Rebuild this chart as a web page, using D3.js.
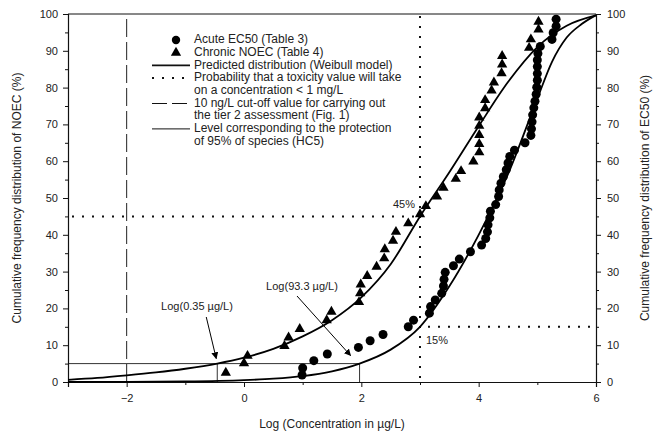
<!DOCTYPE html>
<html>
<head>
<meta charset="utf-8">
<script src="https://cdn.jsdelivr.net/npm/d3@7"></script>
<style>
  html, body { margin: 0; padding: 0; background: #fff; }
  svg { display: block; font-family: "Liberation Sans", Arial, sans-serif; }
  .tick text { font-size: 11px; fill: #222; }
  .domain, .tick line { stroke: #111; }
</style>
</head>
<body>
<svg id="chart" width="661" height="439"></svg>
<script>
// Acute EC50 observations (Table 3): log10 concentration (µg/L) and cumulative %
const acuteLogConc = [0.99, 1.00, 1.19, 1.42, 1.95, 2.15, 2.37, 2.80, 2.89, 3.16, 3.18, 3.26, 3.37, 3.40,
  3.41, 3.43, 3.57, 3.67, 3.86, 4.05, 4.12, 4.15, 4.16, 4.19, 4.20, 4.29, 4.34, 4.35, 4.38, 4.42,
  4.47, 4.50, 4.53, 4.61, 4.79, 4.89, 4.90, 4.91, 4.92, 4.94, 4.96, 4.98, 4.99, 5.00, 5.00, 5.00,
  5.00, 5.01, 5.05, 5.25, 5.27, 5.32, 5.32];
const acutePct = [1.9, 3.8, 5.8, 7.6, 9.4, 11.2, 12.9, 15.0, 16.8, 18.7, 20.5, 22.3, 24.1, 26.1,
  27.9, 29.8, 31.6, 33.4, 35.4, 37.2, 39.0, 40.8, 42.7, 44.6, 46.4, 48.2, 50.4, 52.2, 54.0, 55.8,
  57.7, 59.5, 61.3, 63.0, 65.0, 67.0, 68.8, 70.7, 72.6, 74.5, 76.3, 78.2, 80.1, 82.0, 83.8, 85.7,
  87.5, 89.3, 91.2, 93.1, 94.9, 96.7, 98.6];

// Chronic NOEC observations (Table 4)
const chronicLogConc = [-0.31, 0.00, 0.06, 0.69, 0.76, 0.95, 1.41, 1.49, 1.96, 1.98, 1.99, 2.10, 2.26,
  2.39, 2.40, 2.54, 2.59, 2.80, 3.00, 3.10, 3.29, 3.40, 3.61, 3.70, 3.91, 4.01, 4.01, 4.01, 4.01,
  4.01, 4.11, 4.11, 4.22, 4.26, 4.39, 4.40, 4.40, 4.86, 4.89, 5.02, 5.02];
const chronicPct = [2.5, 5.1, 7.1, 9.8, 12.1, 14.4, 16.8, 19.1, 21.7, 24.1, 26.5, 28.8, 31.3,
  33.6, 36.1, 38.4, 40.8, 43.1, 45.6, 47.8, 50.4, 52.8, 55.2, 57.3, 59.9, 62.4, 64.7, 67.1, 69.6,
  71.9, 74.4, 76.6, 79.2, 81.4, 83.9, 86.3, 88.6, 90.8, 93.1, 95.8, 97.9];

// Fitted Weibull distributions, sampled along the x axis
const chronicFitX = [-3.0, -2.5, -2.0, -1.5, -1.0, -0.456, 0.0, 0.5, 1.0, 1.5, 2.0, 2.5, 3.0, 3.5, 4.0, 4.5, 5.0, 5.5, 6.0];
const chronicFitY = [0.6, 1.1, 1.8, 2.6, 3.6, 5.0, 6.6, 9.0, 12.4, 16.8, 23.0, 32.0, 45.0, 57.0, 69.5, 81.5, 91.0, 96.8, 99.6];
const acuteFitX = [-3.0, -2.0, -1.0, 0.0, 0.5, 1.0, 1.5, 1.97, 2.5, 3.0, 3.5, 4.0, 4.5, 5.0, 5.25, 5.5, 5.75, 6.0];
const acuteFitY = [0.0, 0.05, 0.15, 0.5, 0.9, 1.6, 2.9, 5.0, 8.8, 15.0, 26.0, 40.0, 56.5, 77.0, 87.0, 93.6, 97.2, 99.7];

// Reference levels
const cutoffLog = -2;                 // 10 ng/L
const thresholdLog = 3;               // 1 mg/L
const chronicAtThreshold = 45;        // % of NOEC below 1 mg/L
const acuteAtThreshold = 15;          // % of EC50 below 1 mg/L
const hc5Level = 5;
const hc5Chronic = Math.log10(0.35);
const hc5Acute = Math.log10(93.3);

const xTicks = [-2, 0, 2, 4, 6];
const xMinorTicks = [-1, 1, 3, 5];
const yTicks = [0, 10, 20, 30, 40, 50, 60, 70, 80, 90, 100];
const yMinorTicks = [5, 15, 25, 35, 45, 55, 65, 75, 85, 95];

const legendItems = [
  { kind: "circle", text: "Acute EC50 (Table 3)" },
  { kind: "triangle", text: "Chronic NOEC (Table 4)" },
  { kind: "solid", text: "Predicted distribution (Weibull model)" },
  { kind: "dots", text: "Probability that a toxicity value will take" },
  { kind: "none", text: "on a concentration < 1 mg/L" },
  { kind: "dash", text: "10 ng/L cut-off value for carrying out" },
  { kind: "none", text: "the tier 2 assessment (Fig. 1)" },
  { kind: "thin", text: "Level corresponding to the protection" },
  { kind: "none", text: "of 95% of species (HC5)" }
];

const svg = d3.select("#chart");
const L = 68, R = 596, T = 14, B = 382;
const x = d3.scaleLinear().domain([-3, 6]).range([L, R]);
const y = d3.scaleLinear().domain([0, 100]).range([B, T]);

const dotDash = "2,8";
const longDash = "18,5";

// Reference lines
const ref = svg.append("g");
ref.append("line").attr("x1", x(cutoffLog)).attr("x2", x(cutoffLog)).attr("y1", y(0)).attr("y2", y(100))
  .attr("stroke", "#222").attr("stroke-width", 1).attr("stroke-dasharray", longDash);
ref.append("line").attr("x1", x(thresholdLog)).attr("x2", x(thresholdLog)).attr("y1", y(0) - 4).attr("y2", y(100))
  .attr("stroke", "#111").attr("stroke-width", 2).attr("stroke-dasharray", dotDash);
ref.append("line").attr("x1", x(-3) + 4).attr("x2", x(thresholdLog)).attr("y1", y(chronicAtThreshold)).attr("y2", y(chronicAtThreshold))
  .attr("stroke", "#111").attr("stroke-width", 2).attr("stroke-dasharray", dotDash);
ref.append("line").attr("x1", x(thresholdLog) + 8).attr("x2", x(6)).attr("y1", y(acuteAtThreshold)).attr("y2", y(acuteAtThreshold))
  .attr("stroke", "#111").attr("stroke-width", 2).attr("stroke-dasharray", dotDash);

// HC5 guide lines
ref.append("line").attr("x1", x(-3)).attr("x2", x(hc5Acute)).attr("y1", y(hc5Level)).attr("y2", y(hc5Level))
  .attr("stroke", "#333").attr("stroke-width", 1);
[hc5Chronic, hc5Acute].forEach(v => {
  ref.append("line").attr("x1", x(v)).attr("x2", x(v)).attr("y1", y(hc5Level)).attr("y2", y(0))
    .attr("stroke", "#333").attr("stroke-width", 1);
});

// Axes
const axisG = svg.append("g");
axisG.append("g").attr("transform", `translate(0,${B})`)
  .call(d3.axisBottom(x).tickValues(xTicks).tickSize(5).tickPadding(7).tickFormat(d3.format("d")));
axisG.append("g").attr("transform", `translate(0,${B})`)
  .call(d3.axisBottom(x).tickValues(xMinorTicks).tickSize(3).tickFormat(""))
  .select(".domain").remove();
axisG.append("g").attr("transform", `translate(${L},0)`)
  .call(d3.axisLeft(y).tickValues(yTicks).tickSize(5).tickPadding(5));
axisG.append("g").attr("transform", `translate(${L},0)`)
  .call(d3.axisLeft(y).tickValues(yMinorTicks).tickSize(3).tickFormat(""))
  .select(".domain").remove();
axisG.append("g").attr("transform", `translate(${R},0)`)
  .call(d3.axisRight(y).tickValues(yTicks).tickSize(5).tickPadding(6));
axisG.append("g").attr("transform", `translate(${R},0)`)
  .call(d3.axisRight(y).tickValues(yMinorTicks).tickSize(3).tickFormat(""))
  .select(".domain").remove();
axisG.selectAll(".domain").attr("stroke-width", 1.2);
axisG.append("line").attr("x1", L).attr("x2", R).attr("y1", T).attr("y2", T)
  .attr("stroke", "#111").attr("stroke-width", 1);

// Weibull curves
const line = d3.line().x(d => x(d[0])).y(d => y(d[1])).curve(d3.curveMonotoneX);
const plot = svg.append("g");
plot.append("path").datum(d3.zip(chronicFitX, chronicFitY)).attr("d", line)
  .attr("fill", "none").attr("stroke", "#000").attr("stroke-width", 1.8);
plot.append("path").datum(d3.zip(acuteFitX, acuteFitY)).attr("d", line)
  .attr("fill", "none").attr("stroke", "#000").attr("stroke-width", 1.8);

// Observations
const tri = d3.symbol().type(d3.symbolTriangle).size(46);
plot.selectAll("path.chronic").data(d3.zip(chronicLogConc, chronicPct)).join("path")
  .attr("class", "chronic").attr("d", tri)
  .attr("transform", d => `translate(${x(d[0])},${y(d[1])})`).attr("fill", "#000");
plot.selectAll("circle.acute").data(d3.zip(acuteLogConc, acutePct)).join("circle")
  .attr("class", "acute").attr("cx", d => x(d[0])).attr("cy", d => y(d[1])).attr("r", 4.5).attr("fill", "#000");

// Annotations
svg.append("defs").append("marker").attr("id", "arrow").attr("viewBox", "0 0 10 10")
  .attr("refX", 9).attr("refY", 5).attr("markerWidth", 7).attr("markerHeight", 7)
  .attr("markerUnits", "userSpaceOnUse").attr("orient", "auto")
  .append("path").attr("d", "M0,0 L10,5 L0,10 z").attr("fill", "#000");

const ann = svg.append("g").attr("font-size", 11).attr("fill", "#222");
ann.append("text").attr("x", 197).attr("y", 307).attr("text-anchor", "middle").attr("dominant-baseline", "middle")
  .text("Log(0.35 µg/L)");
ann.append("line").attr("x1", x(hc5Chronic) - 11).attr("y1", 317).attr("x2", x(hc5Chronic) - 1).attr("y2", y(hc5Level) - 5)
  .attr("stroke", "#000").attr("stroke-width", 1).attr("marker-end", "url(#arrow)");
ann.append("text").attr("x", 302).attr("y", 287).attr("text-anchor", "middle").attr("dominant-baseline", "middle")
  .text("Log(93.3 µg/L)");
ann.append("line").attr("x1", 297).attr("y1", 296).attr("x2", x(hc5Acute) - 9).attr("y2", y(hc5Level) - 8)
  .attr("stroke", "#000").attr("stroke-width", 1).attr("marker-end", "url(#arrow)");
ann.append("text").attr("x", x(thresholdLog) - 5).attr("y", y(chronicAtThreshold) - 11).attr("text-anchor", "end")
  .attr("dominant-baseline", "middle").text(chronicAtThreshold + "%");
ann.append("text").attr("x", x(thresholdLog) + 6).attr("y", y(acuteAtThreshold) + 14)
  .attr("dominant-baseline", "middle").text(acuteAtThreshold + "%");

// Axis titles
const titles = svg.append("g").attr("font-size", 12).attr("fill", "#222").attr("text-anchor", "middle");
titles.append("text").attr("x", (L + R) / 2).attr("y", 425).attr("dominant-baseline", "middle")
  .text("Log (Concentration in µg/L)");
titles.append("text").attr("transform", `translate(18,${(T + B) / 2}) rotate(-90)`).attr("dominant-baseline", "middle")
  .text("Cumulative frequency distribution of NOEC (%)");
titles.append("text").attr("transform", `translate(646,${(T + B) / 2}) rotate(-90)`).attr("dominant-baseline", "middle")
  .text("Cumulative frequency distribution of EC50 (%)");

// Legend
const leg = svg.append("g");
const symX = 176, textX = 194, row0 = 40, rowH = 12.7, sampleX0 = 152, sampleX1 = 190;
legendItems.forEach((item, i) => {
  const cy = row0 + i * rowH;
  if (item.kind === "circle") {
    leg.append("circle").attr("cx", symX).attr("cy", cy).attr("r", 4.2).attr("fill", "#000");
  } else if (item.kind === "triangle") {
    leg.append("path").attr("d", tri).attr("transform", `translate(${symX},${cy})`).attr("fill", "#000");
  } else if (item.kind !== "none") {
    const styles = {
      solid: { w: 1.8, dash: null },
      dots: { w: 2, dash: dotDash },
      dash: { w: 1, dash: "15,5" },
      thin: { w: 1, dash: null }
    }[item.kind];
    leg.append("line").attr("x1", sampleX0).attr("x2", sampleX1).attr("y1", cy).attr("y2", cy)
      .attr("stroke", "#111").attr("stroke-width", styles.w).attr("stroke-dasharray", styles.dash);
  }
  leg.append("text").attr("x", textX).attr("y", cy).attr("dominant-baseline", "middle")
    .attr("font-size", 12).attr("fill", "#222").text(item.text);
});
</script>
</body>
</html>
